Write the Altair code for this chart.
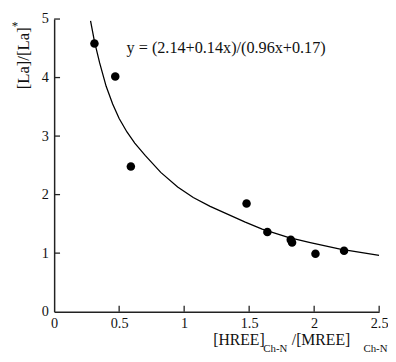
import altair as alt
import pandas as pd

# Observed data points
pt_x = [0.31, 0.47, 0.59, 1.48, 1.64, 1.82, 1.83, 2.01, 2.23]
pt_y = [4.58, 4.02, 2.48, 1.85, 1.36, 1.23, 1.18, 0.99, 1.04]

# Fitted curve
cv_x = [0.28, 0.31, 0.35, 0.40, 0.45, 0.50, 0.56, 0.62, 0.70, 0.82, 0.95, 1.07, 1.20, 1.32, 1.47, 1.60, 1.80, 1.97, 2.20, 2.50]
cv_y = [4.97, 4.62, 4.25, 3.85, 3.55, 3.30, 3.07, 2.88, 2.67, 2.38, 2.13, 1.95, 1.80, 1.68, 1.53, 1.41, 1.27, 1.18, 1.07, 0.96]

x_ticks = [0, 0.5, 1, 1.5, 2, 2.5]
y_ticks = [0, 1, 2, 3, 4, 5]

equation = "y = (2.14+0.14x)/(0.96x+0.17)"

FONT = "Liberation Serif"
W, H = 331, 298

pts = pd.DataFrame({"x": pt_x, "y": pt_y})
cv = pd.DataFrame({"x": cv_x, "y": cv_y})

xs = alt.Scale(domain=[0, 2.5], nice=False)
ys = alt.Scale(domain=[0, 5], nice=False)

AX = dict(title=None, grid=False, ticks=False, domainColor="#222", domainWidth=1.5,
          labelFont=FONT, labelFontSize=14.5, labelColor="#111", labelFlush=False, format="~g")

base_axes = alt.Chart(pd.DataFrame({"x": [0], "y": [0]})).mark_point(opacity=0).encode(
    x=alt.X("x:Q", scale=xs, title=None, axis=alt.Axis(values=x_ticks, labelPadding=5, **AX)),
    y=alt.Y("y:Q", scale=ys, title=None, axis=alt.Axis(values=y_ticks, labelPadding=6, **AX)),
)

curve = alt.Chart(cv).mark_line(color="black", strokeWidth=1.3, clip=True).encode(
    x=alt.X("x:Q", scale=xs, title=None), y=alt.Y("y:Q", scale=ys, title=None)
)

points = alt.Chart(pts).mark_circle(color="black", opacity=1, size=75).encode(
    x=alt.X("x:Q", scale=xs, title=None), y=alt.Y("y:Q", scale=ys, title=None)
)

xt = alt.Chart(pd.DataFrame({"v": x_ticks[1:]})).mark_rule(color="#222", strokeWidth=1.3).encode(
    x=alt.X("v:Q", scale=xs, title=None), y=alt.value(H), y2=alt.value(H - 6)
)
yt = alt.Chart(pd.DataFrame({"v": y_ticks[1:]})).mark_rule(color="#222", strokeWidth=1.3).encode(
    y=alt.Y("v:Q", scale=ys, title=None), x=alt.value(0), x2=alt.value(6)
)

eq = alt.Chart(pd.DataFrame({"x": [0.557], "y": [4.42], "t": [equation]})).mark_text(
    font=FONT, fontSize=16.5, align="left", baseline="alphabetic", color="#111"
).encode(x=alt.X("x:Q", scale=xs, title=None), y=alt.Y("y:Q", scale=ys, title=None), text="t:N")


def label(txt, px, py, size, angle=0, align="left", baseline="alphabetic"):
    return alt.Chart(pd.DataFrame({"t": [txt]})).mark_text(
        font=FONT, fontSize=size, align=align, baseline=baseline, angle=angle, color="#111"
    ).encode(x=alt.value(px), y=alt.value(py), text="t:N")


titles = [
    label("[HREE]", 162, 332, 16),
    label("Ch-N", 213, 339, 11),
    label("/[MREE]", 242, 332, 16),
    label("Ch-N", 315, 339, 11),
    label("[La]/[La]", -31, 40, 17, angle=270, align="center", baseline="middle"),
    label("*", -40, 7, 13, baseline="middle", align="center"),
]

chart = alt.layer(base_axes, curve, points, xt, yt, eq, *titles).properties(
    width=W, height=H,
    background="white",
    autosize=alt.AutoSizeParams(type="none"),
    padding={"left": 47, "top": 8, "right": 9, "bottom": 46},
).configure_view(stroke=None)

chart.save("out.html", embed_options={"renderer": "svg", "actions": False})
